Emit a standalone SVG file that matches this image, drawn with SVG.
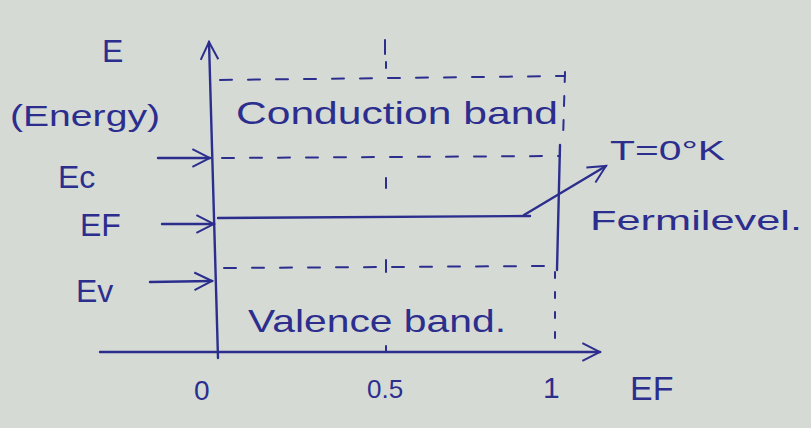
<svg xmlns="http://www.w3.org/2000/svg" width="811" height="428" viewBox="0 0 811 428">
<defs>
<style>
.ink{stroke:#2c2e8e;stroke-width:2.4;fill:none;stroke-linecap:round;stroke-linejoin:round}
.dash{stroke:#2c2e8e;stroke-width:2;fill:none;stroke-dasharray:12 16;stroke-linecap:round}
.t{fill:#2c2e8e;font-family:"Liberation Sans",Arial,sans-serif}
</style>
<marker id="ahb" viewBox="0 0 20 20" refX="18" refY="10" markerWidth="22" markerHeight="22" markerUnits="userSpaceOnUse" orient="auto">
<path d="M2 2 L18 10 L2 18" fill="none" stroke="#2c2e8e" stroke-width="1.8"/>
</marker>
</defs>
<rect width="811" height="428" fill="#d6dad5"/>
<g id="connectors">
<line class="ink" x1="218" y1="358" x2="209" y2="42" marker-end="url(#ahb)"/>
<line class="ink" x1="100" y1="352" x2="600" y2="352" marker-end="url(#ahb)"/>
<line class="dash" x1="220" y1="80" x2="565" y2="76"/>
<line class="dash" x1="222" y1="158" x2="560" y2="156"/>
<line class="ink" x1="218" y1="218" x2="530" y2="216"/>
<line class="dash" x1="224" y1="268" x2="548" y2="266"/>
<line class="ink" x1="560" y1="145" x2="557" y2="270"/>
<line class="dash" x1="565" y1="72" x2="563" y2="140" style="stroke-dasharray:10 14"/>
<line class="dash" x1="555" y1="272" x2="555" y2="350" style="stroke-dasharray:6 14"/>
<path class="ink" d="M385 40 V54 M386 62 V68 M386 178 V188 M386 260 V272 M386 346 V352" style="stroke-width:2"/>
<line class="ink" x1="158" y1="158" x2="210" y2="158" marker-end="url(#ahb)"/>
<line class="ink" x1="162" y1="224" x2="214" y2="224" marker-end="url(#ahb)"/>
<line class="ink" x1="150" y1="282" x2="212" y2="281" marker-end="url(#ahb)"/>
<line class="ink" x1="524" y1="215" x2="606" y2="166" marker-end="url(#ahb)"/>
</g>
<g id="axis-labels">
<text class="t" x="102" y="62" font-size="32">E</text>
<text class="t" x="10" y="126" font-size="30" textLength="150" lengthAdjust="spacingAndGlyphs">(Energy)</text>
<text class="t" x="58" y="188" font-size="32">Ec</text>
<text class="t" x="80" y="236" font-size="32">EF</text>
<text class="t" x="76" y="302" font-size="32">Ev</text>
<text class="t" x="194" y="400" font-size="28">0</text>
<text class="t" x="367" y="398" font-size="26">0.5</text>
<text class="t" x="543" y="398" font-size="30">1</text>
<text class="t" x="630" y="400" font-size="34">EF</text>
</g>
<g id="conduction-band">
<text class="t" x="236" y="124" font-size="32" textLength="322" lengthAdjust="spacingAndGlyphs">Conduction band</text>
</g>
<g id="valence-band">
<text class="t" x="248" y="332" font-size="32" textLength="258" lengthAdjust="spacingAndGlyphs">Valence band.</text>
</g>
<g id="fermi-level">
<text class="t" x="590" y="230" font-size="28" textLength="212" lengthAdjust="spacingAndGlyphs">Fermilevel.</text>
</g>
<g id="temperature">
<text class="t" x="610" y="160" font-size="28" textLength="115" lengthAdjust="spacingAndGlyphs">T=0°K</text>
</g>
</svg>
